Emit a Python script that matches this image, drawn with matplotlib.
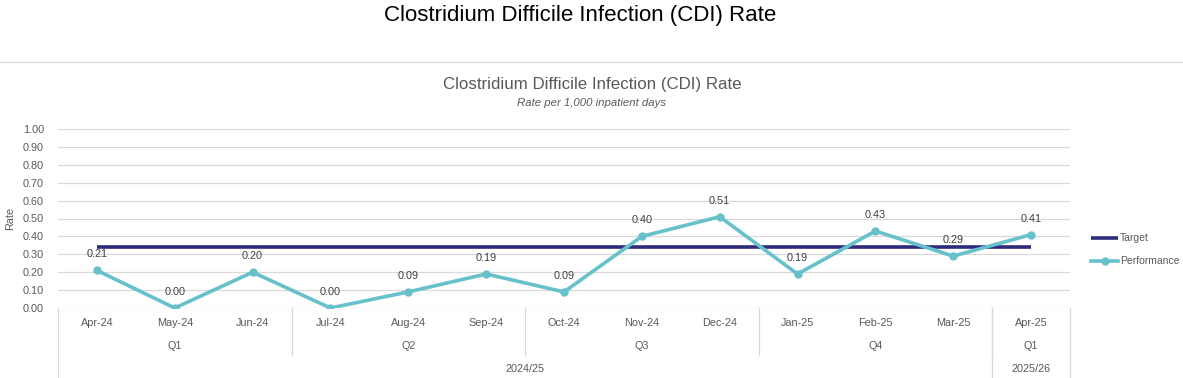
import matplotlib.pyplot as plt
import numpy as np

months = ["Apr-24", "May-24", "Jun-24", "Jul-24", "Aug-24", "Sep-24", "Oct-24",
          "Nov-24", "Dec-24", "Jan-25", "Feb-25", "Mar-25", "Apr-25"]
performance = [0.21, 0.00, 0.20, 0.00, 0.09, 0.19, 0.09, 0.40, 0.51, 0.19, 0.43, 0.29, 0.41]
target = [0.34] * len(months)
quarters = ["Q1", "Q2", "Q3", "Q4", "Q1"]
quarter_sizes = [3, 3, 3, 3, 1]
years = ["2024/25", "2025/26"]
year_sizes = [12, 1]

plt.rcParams['font.family'] = ['Liberation Sans', 'DejaVu Sans']

W, H = 1183, 378
fig = plt.figure(figsize=(W / 100, H / 100), dpi=100)

# plot area in pixel coordinates
left, right, top, bottom = 58, 1070, 129, 308
ax = fig.add_axes([left / W, 1 - bottom / H, (right - left) / W, (bottom - top) / H])

TARGET_C = "#2f2a7c"
PERF_C = "#66c1cb"
GRID_C = "#d9d9d9"
TEXT_C = "#595959"

x = np.arange(len(months))
ax.plot(x, target, color=TARGET_C, lw=2.6, label="Target", solid_capstyle="butt")
ax.plot(x, performance, color=PERF_C, lw=2.6, marker="o", ms=5, label="Performance")

for xi, v in zip(x, performance):
    ax.annotate(f"{v:.2f}", (xi, v), xytext=(0, 11.5), textcoords="offset points",
                ha="center", va="center", fontsize=7.8, color="#404040")

ax.set_xlim(-0.5, len(months) - 0.5)
ax.set_ylim(0, 1.0)
ax.set_yticks(np.arange(0, 1.01, 0.1))
ax.set_yticklabels([f"{v:.2f}" for v in np.arange(0, 1.01, 0.1)])
ax.yaxis.grid(True, color=GRID_C, lw=0.9)
ax.set_axisbelow(True)
for s in ["top", "right", "left", "bottom"]:
    ax.spines[s].set_visible(False)
ax.tick_params(axis="y", length=0, labelsize=7.8, labelcolor=TEXT_C, pad=10)
ax.set_xticks([])
ax.set_ylabel("Rate", fontsize=7.8, color=TEXT_C, labelpad=6)

# multi-level category axis
ph = bottom - top
def ay(py):
    return -(py - bottom) / ph

trans = ax.get_xaxis_transform()
for xi, m in zip(x, months):
    ax.text(xi, ay(323), m, transform=trans, ha="center", va="center",
            fontsize=7.8, color=TEXT_C)

pos = -0.5
for q, n in zip(quarters, quarter_sizes):
    ax.text(pos + n / 2, ay(346), q, transform=trans, ha="center", va="center",
            fontsize=7.8, color=TEXT_C)
    pos += n
    if pos < len(months) - 0.5:
        ax.plot([pos, pos], [0, ay(355)], transform=trans, color=GRID_C, lw=0.9, clip_on=False)

pos = -0.5
ax.plot([pos, pos], [0, ay(378)], transform=trans, color=GRID_C, lw=0.9, clip_on=False)
for yname, n in zip(years, year_sizes):
    ax.text(pos + n / 2, ay(369), yname, transform=trans, ha="center", va="center",
            fontsize=7.8, color=TEXT_C)
    pos += n
    ax.plot([pos, pos], [0, ay(378)], transform=trans, color=GRID_C, lw=0.9, clip_on=False)

# titles
fig.text(580 / W, 1 - 15 / H, "Clostridium Difficile Infection (CDI) Rate", ha="center", va="center",
         fontsize=16, color="black")
fig.add_artist(plt.Line2D([0, 1], [1 - 62 / H] * 2, color=GRID_C, lw=0.9))
fig.text(592 / W, 1 - 85 / H, "Clostridium Difficile Infection (CDI) Rate", ha="center", va="center",
         fontsize=12.2, color=TEXT_C)
fig.text(592 / W, 1 - 103 / H, "Rate per 1,000 inpatient days", ha="center", va="center",
         fontsize=8.2, style="italic", color=TEXT_C)

leg = fig.legend(loc="upper left", bbox_to_anchor=(1087 / W, 1 - 229 / H), frameon=False,
                 fontsize=7.5, handlelength=2.6, handletextpad=0.15, labelspacing=1.25,
                 borderaxespad=0, labelcolor=TEXT_C)

fig.savefig("out.png", dpi=100)
